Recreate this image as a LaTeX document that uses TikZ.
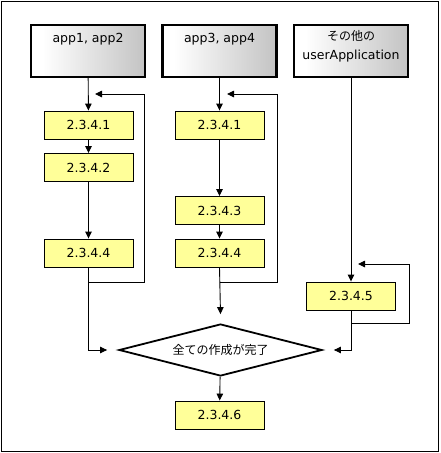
\documentclass[tikz,border=0pt]{standalone}
\usepackage{fontspec}
\setmainfont{DejaVu Sans}
\newfontfamily\jpfont{Noto Sans CJK JP}
\usetikzlibrary{shapes.geometric,arrows.meta}
\definecolor{stepyellow}{HTML}{FFFF99}
\pgfdeclarehorizontalshading{hdrshade}{100bp}{color(0bp)=(white); color(30bp)=(white);
  color(80bp)=(black!26); color(100bp)=(black!26)}
\begin{document}
\begin{tikzpicture}[x=1pt,y=-1pt,
  hdr/.style={draw,line width=2.4pt,minimum width=114pt,minimum height=52pt,
    shading=hdrshade,inner sep=0pt},
  hdrtext/.style={font=\fontsize{12.5pt}{19pt}\selectfont,align=center,inner sep=0pt},
  stepbox/.style={draw,line width=0.9pt,fill=stepyellow,minimum width=89pt,
    minimum height=28pt,inner sep=0pt,font=\fontsize{12.5pt}{14pt}\selectfont},
  arr/.style={line width=0.9pt,-{Triangle[length=7pt,width=6.5pt]}},
  ]
\useasboundingbox (0,0) rectangle (440,453);
\draw[line width=1pt] (1,1) rectangle (438.5,451.5);

% headers
\node[hdr] (h1) at (88,51) {};
\node[hdr] (h2) at (219.5,51) {};
\node[hdr] (h3) at (351,51) {};
\node[hdrtext] (t1) at ([yshift=-15pt]h1.north) {app1, app2};
\node[hdrtext] (t2) at ([yshift=-15pt]h2.north) {app3, app4};
\node[hdrtext] (t3) at ([yshift=-22pt]h3.north)
  {{\jpfont\fontsize{12pt}{19pt}\selectfont その他の}\\userApplication};

% steps
\node[stepbox] (a1) at (88.5,125) {2.3.4.1};
\node[stepbox] (a2) at (88.5,167.5) {2.3.4.2};
\node[stepbox] (a4) at (88.5,253) {2.3.4.4};
\node[stepbox] (b1) at (219.5,125) {2.3.4.1};
\node[stepbox] (b3) at (219.5,210.5) {2.3.4.3};
\node[stepbox] (b4) at (219.5,253) {2.3.4.4};
\node[stepbox] (c5) at (351,296) {2.3.4.5};
\node[draw,diamond,aspect=4,line width=1.8pt,fill=white,minimum width=203pt,
  minimum height=52pt,inner sep=0pt,font=\jpfont\fontsize{12pt}{14pt}\selectfont]
  (done) at (220.5,350) {全ての作成が完了};
\node[stepbox] (fin) at (219.5,415) {2.3.4.6};

\coordinate (back1) at (95,94);
\coordinate (back2) at (227,94);
\coordinate (back3) at (358,264);

\draw[arr] (h1) -- (a1);
\draw[arr] (a1) -- (a2);
\draw[arr] (a2) -- (a4);
\draw[arr] (a4.south) |- ([xshift=-11pt]done.west);
\draw[arr] ([yshift=-15pt]a4.south) -| ([xshift=49pt]back1) -- (back1);

\draw[arr] (h2) -- (b1);
\draw[arr] (b1) -- (b3);
\draw[arr] (b3) -- (b4);
\draw[arr] (b4.south) -- ([yshift=9pt]done.north);
\draw[arr] ([yshift=-15pt]b4.south) -| ([xshift=50pt]back2) -- (back2);

\draw[arr] (h3) -- (c5);
\draw[arr] (c5.south) |- ([xshift=11pt]done.east);
\draw[arr] ([yshift=-13pt]c5.south) -| ([xshift=51pt]back3) -- (back3);

\draw[arr] (done) -- (fin);
\end{tikzpicture}
\end{document}
